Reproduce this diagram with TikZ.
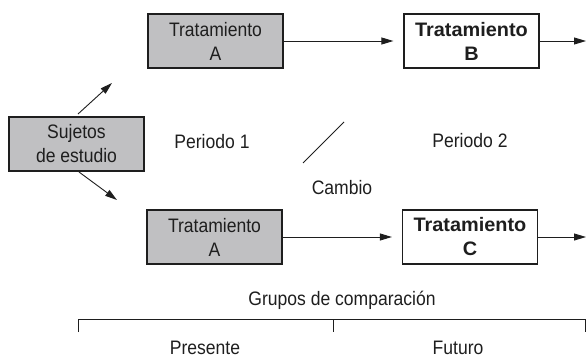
\documentclass[tikz,border=0pt]{standalone}
\usepackage{fontspec}
\setmainfont[FakeStretch=0.9,BoldFeatures={FakeStretch=1.02}]{Liberation Sans}
\usetikzlibrary{arrows.meta}
\definecolor{boxgray}{RGB}{192,192,194}
\definecolor{ink}{RGB}{30,30,30}
\tikzset{
  lbl/.style={font=\fontsize{19.5}{24}\selectfont, text=ink, inner sep=0pt, align=center},
  box/.style={lbl, draw=ink, line width=1.2pt, minimum width=135pt, minimum height=54pt},
  graybox/.style={box, fill=boxgray},
  whitebox/.style={box, fill=white, font=\fontsize{19.5}{24}\selectfont\bfseries},
  arr/.style={draw=ink, line width=0.9pt, -{Triangle[length=12pt,width=7pt]}},
  plain/.style={draw=ink, line width=0.9pt}
}
\begin{document}
\begin{tikzpicture}[x=1pt,y=-1pt]
\useasboundingbox (0,0) rectangle (587,356);
% boxes
\node[graybox] (suj) at (76.5,144) {Sujetos\\de estudio};
\node[graybox] (a1) at (215.5,41) {Tratamiento\\A};
\node[whitebox] (b) at (471.5,41) {Tratamiento\\B};
\node[graybox] (a2) at (214.5,237) {Tratamiento\\A};
\node[whitebox] (c) at (470,237) {Tratamiento\\C};
% free ends
\coordinate (s1) at (78,114);
\coordinate (e1) at (112,83);
\coordinate (s2) at (79,172);
\coordinate (e2) at (117,200);
\coordinate (bend) at (586,41);
\coordinate (cend) at (586,237);
\coordinate (d1) at (303,163);
\coordinate (d2) at (344,122);
% connectors
\draw[arr] (s1) -- (e1);
\draw[arr] (s2) -- (e2);
\draw[arr] (a1.east) -- ([xshift=-10pt]b.west);
\draw[arr] (b.east) -- (bend);
\draw[arr] (a2.east) -- ([xshift=-10pt]c.west);
\draw[arr] (c.east) -- (cend);
\draw[plain] (d1) -- (d2);
% labels
\node[lbl] (p1) at (212,142) {Periodo 1};
\node[lbl] (p2) at (470,141) {Periodo 2};
\node[lbl] (cam) at (342,188) {Cambio};
\node[lbl] (grp) at (342,300) {Grupos de comparación};
% bracket
\coordinate (bl) at (78,319);
\coordinate (bm) at (333,319);
\coordinate (br) at (585,319);
\draw[plain] ([yshift=-13pt]bl) -- (bl) -- (br) -- ([yshift=-13pt]br);
\draw[plain] (bm) -- ([yshift=-13pt]bm);
\node[lbl, anchor=base] (pre) at (205,354) {Presente};
\node[lbl, anchor=base] (fut) at (458,354) {Futuro};
\end{tikzpicture}
\end{document}
